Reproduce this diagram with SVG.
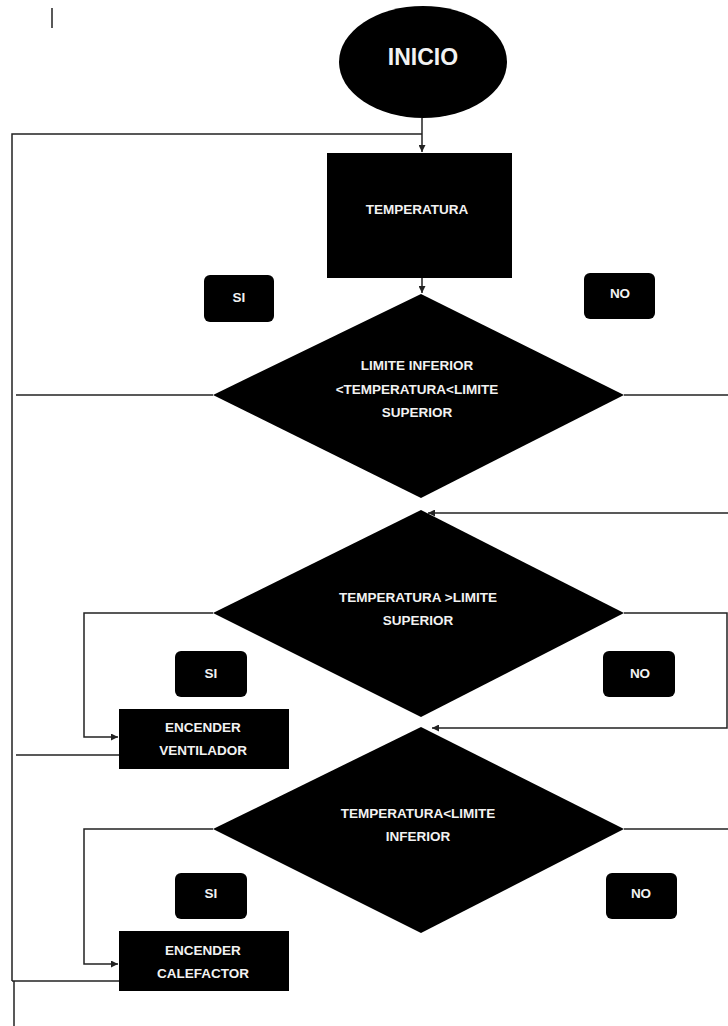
<svg xmlns="http://www.w3.org/2000/svg" width="728" height="1026" viewBox="0 0 728 1026">
<style>
.shape{fill:#000}
.lbl{fill:#f2f2f2;font-family:"Liberation Sans",Arial,sans-serif;font-size:13.5px;font-weight:bold;text-anchor:middle}
.big{font-size:23px}
.conn{fill:none;stroke:#222;stroke-width:1.5}
</style>
<defs>
<marker id="arr" viewBox="0 0 10 10" refX="10" refY="5" markerWidth="7" markerHeight="7" markerUnits="userSpaceOnUse" orient="auto">
<path d="M0,0 L10,5 L0,10 z" fill="#222"/>
</marker>
</defs>
<line x1="52" y1="8" x2="52" y2="28" stroke="#222" stroke-width="1.5"/>
<g id="connectors">
<path class="conn" d="M422,118 V152" marker-end="url(#arr)"/>
<path class="conn" d="M12,981 V134 H422"/>
<path class="conn" d="M422,278 V293" marker-end="url(#arr)"/>
<path class="conn" d="M213,395 H16"/>
<path class="conn" d="M624,395 H728"/>
<path class="conn" d="M728,513 H428" marker-end="url(#arr)"/>
<path class="conn" d="M624,613 H727 V728 H432" marker-end="url(#arr)"/>
<path class="conn" d="M213,613 H84 V737 H118" marker-end="url(#arr)"/>
<path class="conn" d="M119,755 H16"/>
<path class="conn" d="M624,829 H728"/>
<path class="conn" d="M213,829 H84 V964 H118" marker-end="url(#arr)"/>
<path class="conn" d="M119,981 H12"/>
<path class="conn" d="M14,981 V1026"/>
</g>
<g id="inicio">
<ellipse class="shape" cx="423" cy="62" rx="84" ry="56"/>
<text class="lbl big" x="423" y="65">INICIO</text>
</g>
<g id="temperatura">
<rect class="shape" x="327" y="153" width="185" height="125"/>
<text class="lbl" x="417" y="214">TEMPERATURA</text>
</g>
<g id="si1">
<rect class="shape" x="204" y="275" width="70" height="47" rx="6"/>
<text class="lbl" x="239" y="302">SI</text>
</g>
<g id="no1">
<rect class="shape" x="584" y="273" width="71" height="46" rx="6"/>
<text class="lbl" x="620" y="298">NO</text>
</g>
<g id="decision1">
<polygon class="shape" points="421,294 624,395 421,498 213,395"/>
<text class="lbl" x="417" y="370">LIMITE INFERIOR</text>
<text class="lbl" x="417" y="394">&lt;TEMPERATURA&lt;LIMITE</text>
<text class="lbl" x="417" y="417">SUPERIOR</text>
</g>
<g id="decision2">
<polygon class="shape" points="421,510 624,613 421,717 213,613"/>
<text class="lbl" x="418" y="602">TEMPERATURA &gt;LIMITE</text>
<text class="lbl" x="418" y="625">SUPERIOR</text>
</g>
<g id="si2">
<rect class="shape" x="175" y="651" width="72" height="46" rx="6"/>
<text class="lbl" x="211" y="678">SI</text>
</g>
<g id="no2">
<rect class="shape" x="603" y="651" width="72" height="46" rx="6"/>
<text class="lbl" x="640" y="678">NO</text>
</g>
<g id="ventilador">
<rect class="shape" x="119" y="709" width="170" height="60"/>
<text class="lbl" x="203" y="732">ENCENDER</text>
<text class="lbl" x="203" y="755">VENTILADOR</text>
</g>
<g id="decision3">
<polygon class="shape" points="421,727 624,829 421,933 213,829"/>
<text class="lbl" x="418" y="818">TEMPERATURA&lt;LIMITE</text>
<text class="lbl" x="418" y="841">INFERIOR</text>
</g>
<g id="si3">
<rect class="shape" x="175" y="873" width="72" height="46" rx="6"/>
<text class="lbl" x="211" y="898">SI</text>
</g>
<g id="no3">
<rect class="shape" x="606" y="873" width="71" height="46" rx="6"/>
<text class="lbl" x="641" y="898">NO</text>
</g>
<g id="calefactor">
<rect class="shape" x="119" y="931" width="170" height="60"/>
<text class="lbl" x="203" y="955">ENCENDER</text>
<text class="lbl" x="203" y="978">CALEFACTOR</text>
</g>
</svg>
